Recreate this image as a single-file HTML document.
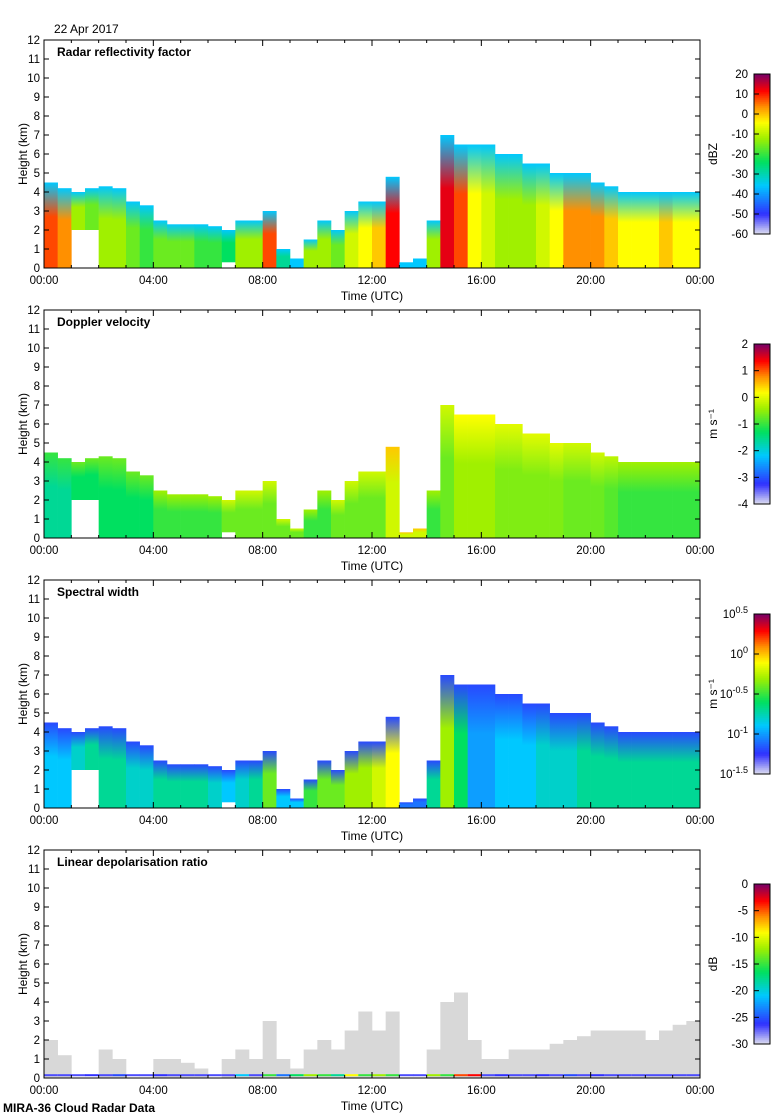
<!DOCTYPE html>
<html><head><meta charset="utf-8"><style>
body{margin:0;background:#fff;}
svg{display:block;font-family:"Liberation Sans",sans-serif;}
</style></head><body>
<svg id="c" width="780" height="1120"></svg>
<script>
// ---- data (30-min steps, 00:00..23:30) ----
const times = Array.from({length:48},(_,i)=>i*0.5);
const cloudTop = [4.5,4.2,4.0,4.2,4.3,4.2,3.5,3.3,2.5,2.3,2.3,2.3,2.2,2.0,2.5,2.5,3.0,1.0,0.5,1.5,2.5,2.0,3.0,3.5,3.5,4.8,0.3,0.5,2.5,7.0,6.5,6.5,6.5,6.0,6.0,5.5,5.5,5.0,5.0,5.0,4.5,4.3,4.0,4.0,4.0,4.0,4.0,4.0];
const cloudBase = [0,0,2,2,0,0,0,0,0,0,0,0,0,0.3,0,0,0,0,0,0,0,0,0,0,0,0,0,0,0,0,0,0,0,0,0,0,0,0,0,0,0,0,0,0,0,0,0,0];
const reflBase = [0.85,0.8,0.6,0.55,0.6,0.6,0.55,0.5,0.55,0.55,0.55,0.5,0.5,0.45,0.6,0.6,0.85,0.4,0.3,0.6,0.6,0.55,0.65,0.7,0.75,0.9,0.3,0.3,0.6,0.92,0.85,0.7,0.65,0.6,0.6,0.6,0.65,0.7,0.8,0.8,0.8,0.75,0.7,0.7,0.7,0.75,0.7,0.7];
const dopBase = [0.45,0.45,0.5,0.5,0.5,0.5,0.5,0.5,0.55,0.55,0.55,0.55,0.55,0.6,0.6,0.6,0.6,0.6,0.6,0.55,0.55,0.6,0.6,0.6,0.6,0.7,0.7,0.7,0.55,0.6,0.65,0.65,0.65,0.62,0.62,0.62,0.62,0.62,0.6,0.6,0.6,0.58,0.55,0.55,0.55,0.55,0.55,0.55];
const widthBase = [0.3,0.3,0.35,0.4,0.4,0.4,0.35,0.35,0.4,0.4,0.4,0.4,0.35,0.3,0.35,0.4,0.55,0.3,0.3,0.5,0.55,0.55,0.6,0.6,0.65,0.7,0.2,0.2,0.4,0.6,0.45,0.25,0.25,0.3,0.3,0.3,0.35,0.35,0.35,0.4,0.4,0.4,0.4,0.4,0.4,0.4,0.4,0.4];
const ldrTop = [2.0,1.2,0,0,1.5,1.0,0,0,1.0,1.0,0.8,0.5,0,1.0,1.5,1.0,3.0,1.0,0.5,1.5,2.0,1.5,2.5,3.5,2.5,3.5,0,0,1.5,4.0,4.5,2.0,1.0,1.0,1.5,1.5,1.5,1.8,2.0,2.2,2.5,2.5,2.5,2.5,2.0,2.5,2.8,3.0];
const ldrStrip = [0.1,0.1,0.1,0.12,0.1,0.15,0.1,0.1,0.12,0.1,0.1,0.1,0.1,0.1,0.3,0.1,0.5,0.2,0.45,0.6,0.5,0.4,0.7,0.5,0.6,0.5,0.1,0.1,0.6,0.5,0.85,0.9,0.1,0.12,0.1,0.1,0.12,0.1,0.15,0.1,0.12,0.1,0.1,0.1,0.1,0.1,0.1,0.1];
const yTicks = [0,1,2,3,4,5,6,7,8,9,10,11,12];
const xTickLabels = ["00:00","04:00","08:00","12:00","16:00","20:00","00:00"];
const panelTitles = ["Radar reflectivity factor","Doppler velocity","Spectral width","Linear depolarisation ratio"];

const NS="http://www.w3.org/2000/svg", svg=document.getElementById('c');
function el(t,a,p){const e=document.createElementNS(NS,t);for(const k in a)e.setAttribute(k,a[k]);(p||svg).appendChild(e);return e;}
const stops=[[0,[216,216,240]],[0.12,[48,48,255]],[0.3,[0,200,255]],[0.45,[0,224,96]],[0.6,[160,240,0]],[0.7,[255,255,0]],[0.8,[255,144,0]],[0.9,[255,0,0]],[1,[128,0,96]]];
function cmap(v){v=Math.max(0,Math.min(1,v));for(let i=1;i<stops.length;i++){if(v<=stops[i][0]){const a=stops[i-1],b=stops[i],t=(v-a[0])/(b[0]-a[0]);return 'rgb('+a[1].map((c,j)=>Math.round(c+(b[1][j]-c)*t)).join(',')+')';}}return 'rgb(128,0,96)';}
const X0=44,X1=700,H=228;
const tops=[40,310,580,850];
const xs=t=>X0+t/24*(X1-X0);
const defs=el('defs',{});
let gid=0;
function grad(c1,c2){const id='g'+(gid++);const g=el('linearGradient',{id:id,x1:0,y1:1,x2:0,y2:0},defs);el('stop',{offset:0,'stop-color':c1},g);el('stop',{offset:0.6,'stop-color':c1,'stop-opacity':1},g);el('stop',{offset:1,'stop-color':c2},g);return 'url(#'+id+')';}

el('text',{x:54,y:33,'font-size':12},svg).textContent="22 Apr 2017";

tops.forEach((Y0,p)=>{
  const ys=h=>Y0+H-h/12*H;
  const g=el('g',{});  
  times.forEach((t,i)=>{
    const x=xs(t), w=xs(t+0.5)-x+0.3;
    let top,base,fill;
    if(p<3){top=cloudTop[i];base=cloudBase[i];
      if(p==0) fill=grad(cmap(reflBase[i]),cmap(0.3));
      else if(p==1) fill=grad(cmap(dopBase[i]-0.05),cmap(dopBase[i]+0.05));
      else fill=grad(cmap(widthBase[i]),cmap(0.15));
    } else {top=ldrTop[i];base=0;fill='#d8d8d8';}
    if(top>base){const r=el('rect',{x:x,y:ys(top),width:w,height:ys(base)-ys(top),fill:fill},g);
      }
    if(p==3){const s=el('rect',{x:x,y:ys(0.2),width:w,height:2,fill:cmap(ldrStrip[i])},g);
      }
  });
  el('rect',{x:X0,y:Y0,width:X1-X0,height:H,fill:'none',stroke:'#000'},g);
  yTicks.forEach(v=>{const y=ys(v);
    el('line',{x1:X0,x2:X0+5,y1:y,y2:y,stroke:'#000'},g);el('line',{x1:X1-5,x2:X1,y1:y,y2:y,stroke:'#000'},g);
    const t=el('text',{x:X0-4,y:y+4,'font-size':11.5,'text-anchor':'end'},g);t.textContent=v;
    });
  for(let h=0;h<=24;h++){const x=xs(h),L=h%4==0?6:3;
    el('line',{x1:x,x2:x,y1:Y0+H,y2:Y0+H-L,stroke:'#000'},g);el('line',{x1:x,x2:x,y1:Y0,y2:Y0+L,stroke:'#000'},g);}
  xTickLabels.forEach((l,i)=>{const t=el('text',{x:xs(i*4),y:Y0+H+16,'font-size':11.5,'text-anchor':'middle'},g);t.textContent=l;
    });
  const xt=el('text',{x:372,y:Y0+H+32,'font-size':12,'text-anchor':'middle'},g);xt.textContent="Time (UTC)";
  
  const yt=el('text',{transform:`translate(27,${Y0+H/2}) rotate(-90)`,'font-size':12,'text-anchor':'middle'},g);yt.textContent="Height (km)";
  
  const tt=el('text',{x:57,y:Y0+16,'font-size':12,'font-weight':'bold'},g);tt.textContent=panelTitles[p];
  
  const cy=Y0+34, ch=160;
  const cg=el('g',{},g);
  for(let k=0;k<80;k++){el('rect',{x:754,y:cy+ch-(k+1)*2,width:16,height:2.3,fill:cmap(k/79)},cg);}
  el('rect',{x:754,y:cy,width:16,height:ch,fill:'none',stroke:'#000'},cg);
  let labs,unit;
  if(p==0){labs=["20","10","0","-10","-20","-30","-40","-50","-60"];unit="dBZ";}
  else if(p==1){labs=["2","1","0","-1","-2","-3","-4"];unit="m s⁻¹";}
  else if(p==2){labs=["10^0.5","10^0","10^-0.5","10^-1","10^-1.5"];unit="m s⁻¹";}
  else {labs=["0","-5","-10","-15","-20","-25","-30"];unit="dB";}
  labs.forEach((l,i)=>{const y=cy+i*ch/(labs.length-1);
    el('line',{x1:754,x2:759,y1:y,y2:y,stroke:'#000'},cg);
    const t=el('text',{x:748,y:y+4,'font-size':11.5,'text-anchor':'end'},cg);
    if(l.includes('^')){const [b,e]=l.split('^');t.textContent=b;const s=el('tspan',{'font-size':9,dy:-5},t);s.textContent=e;}
    else t.textContent=l;});
  const ut=el('text',{transform:`translate(717,${cy+ch/2}) rotate(-90)`,'font-size':12,'text-anchor':'middle'},cg);ut.textContent=unit;
});
const ft=el('text',{x:3,y:1112,'font-size':12,'font-weight':'bold'});ft.textContent="MIRA-36 Cloud Radar Data";

</script>
</body></html>
